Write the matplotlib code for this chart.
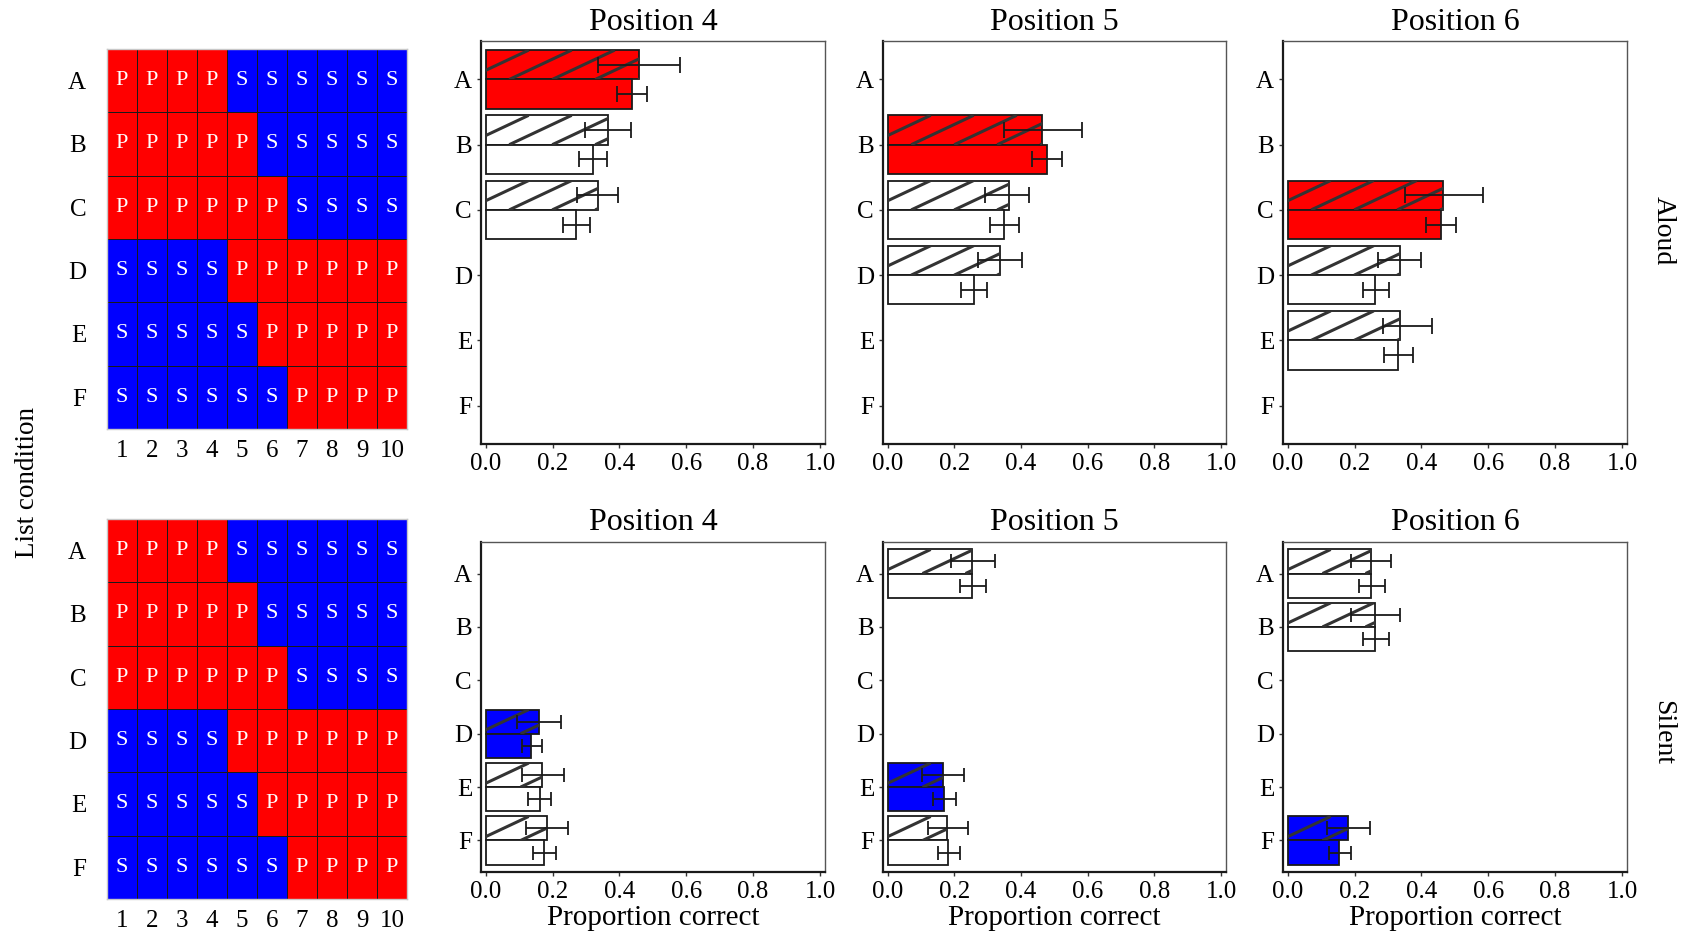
import matplotlib
matplotlib.use("Agg")
import matplotlib.pyplot as plt
from matplotlib.colors import ListedColormap
import numpy as np

plt.rcParams['font.family'] = ['Liberation Serif', 'DejaVu Serif']

nan = np.nan

# list layouts (P = phonological, S = semantic) for each list condition
conditions = ['A', 'B', 'C', 'D', 'E', 'F']
serial_pos = [1, 2, 3, 4, 5, 6, 7, 8, 9, 10]
layouts = ['PPPPSSSSSS',
           'PPPPPSSSSS',
           'PPPPPPSSSS',
           'SSSSPPPPPP',
           'SSSSSPPPPP',
           'SSSSSSPPPP']

positions = [4, 5, 6]
aloud_highlight = ['A', 'B', 'C']
silent_highlight = ['D', 'E', 'F']

# ---- Aloud ----
# position 4
al4_hatch    = [0.459, 0.366, 0.335, nan, nan, nan]
al4_hatch_lo = [0.337, 0.298, 0.272, nan, nan, nan]
al4_hatch_hi = [0.581, 0.436, 0.396, nan, nan, nan]
al4_plain    = [0.438, 0.320, 0.270, nan, nan, nan]
al4_plain_lo = [0.392, 0.278, 0.232, nan, nan, nan]
al4_plain_hi = [0.482, 0.364, 0.312, nan, nan, nan]
# position 5
al5_hatch    = [nan, 0.462, 0.363, 0.336, nan, nan]
al5_hatch_lo = [nan, 0.349, 0.292, 0.272, nan, nan]
al5_hatch_hi = [nan, 0.583, 0.424, 0.404, nan, nan]
al5_plain    = [nan, 0.479, 0.350, 0.258, nan, nan]
al5_plain_lo = [nan, 0.434, 0.307, 0.220, nan, nan]
al5_plain_hi = [nan, 0.523, 0.395, 0.299, nan, nan]
# position 6
al6_hatch    = [nan, nan, 0.466, 0.335, 0.335, nan]
al6_hatch_lo = [nan, nan, 0.352, 0.270, 0.286, nan]
al6_hatch_hi = [nan, nan, 0.583, 0.400, 0.433, nan]
al6_plain    = [nan, nan, 0.458, 0.261, 0.331, nan]
al6_plain_lo = [nan, nan, 0.413, 0.226, 0.289, nan]
al6_plain_hi = [nan, nan, 0.503, 0.302, 0.375, nan]

# ---- Silent ----
si4_hatch    = [nan, nan, nan, 0.158, 0.167, 0.182]
si4_hatch_lo = [nan, nan, nan, 0.095, 0.108, 0.120]
si4_hatch_hi = [nan, nan, nan, 0.224, 0.235, 0.247]
si4_plain    = [nan, nan, nan, 0.135, 0.161, 0.174]
si4_plain_lo = [nan, nan, nan, 0.108, 0.128, 0.143]
si4_plain_hi = [nan, nan, nan, 0.167, 0.194, 0.210]

si5_hatch    = [0.254, nan, nan, nan, 0.165, 0.179]
si5_hatch_lo = [0.189, nan, nan, nan, 0.103, 0.121]
si5_hatch_hi = [0.321, nan, nan, nan, 0.230, 0.242]
si5_plain    = [0.254, nan, nan, nan, 0.168, 0.181]
si5_plain_lo = [0.216, nan, nan, nan, 0.137, 0.150]
si5_plain_hi = [0.295, nan, nan, nan, 0.205, 0.217]

si6_hatch    = [0.250, 0.260, nan, nan, nan, 0.180]
si6_hatch_lo = [0.189, 0.189, nan, nan, nan, 0.119]
si6_hatch_hi = [0.310, 0.337, nan, nan, nan, 0.246]
si6_plain    = [0.250, 0.262, nan, nan, nan, 0.154]
si6_plain_lo = [0.213, 0.225, nan, nan, nan, 0.125]
si6_plain_hi = [0.291, 0.302, nan, nan, nan, 0.190]

aloud_panels = [
    (al4_hatch, al4_hatch_lo, al4_hatch_hi, al4_plain, al4_plain_lo, al4_plain_hi),
    (al5_hatch, al5_hatch_lo, al5_hatch_hi, al5_plain, al5_plain_lo, al5_plain_hi),
    (al6_hatch, al6_hatch_lo, al6_hatch_hi, al6_plain, al6_plain_lo, al6_plain_hi),
]
silent_panels = [
    (si4_hatch, si4_hatch_lo, si4_hatch_hi, si4_plain, si4_plain_lo, si4_plain_hi),
    (si5_hatch, si5_hatch_lo, si5_hatch_hi, si5_plain, si5_plain_lo, si5_plain_hi),
    (si6_hatch, si6_hatch_lo, si6_hatch_hi, si6_plain, si6_plain_lo, si6_plain_hi),
]

RED = '#ff0000'
BLUE = '#0000ff'
W, H = 1686, 935


def px_axes(left, top, right, bottom):
    return fig.add_axes([left / W, 1 - bottom / H, (right - left) / W, (bottom - top) / H])


def draw_layout(ax):
    grid = np.array([[1 if c == 'P' else 0 for c in row] for row in layouts])
    ax.pcolormesh(np.arange(len(serial_pos) + 1), np.arange(len(conditions) + 1), grid,
                  cmap=ListedColormap([BLUE, RED]), edgecolors='#1a1a1a', linewidth=0.6)
    for i, row in enumerate(layouts):
        for j, c in enumerate(row):
            ax.text(j + 0.5, i + 0.5, c, color='white', ha='center', va='center', fontsize=16)
    ax.set_xlim(0, len(serial_pos))
    ax.set_ylim(len(conditions), 0)
    ax.set_xticks(np.arange(len(serial_pos)) + 0.5)
    ax.set_xticklabels(serial_pos)
    ax.set_yticks(np.arange(len(conditions)) + 0.5)
    ax.set_yticklabels(conditions)
    ax.tick_params(axis='x', length=0, pad=8, labelsize=18)
    ax.tick_params(axis='y', length=0, pad=15, labelsize=18)
    for s in ax.spines.values():
        s.set_color('#c8c8c8')
        s.set_linewidth(1)


def add_stripes(ax, bar, spacing_px=43, slope=0.47):
    # diagonal stripes clipped to the bar, drawn in display geometry
    p0 = ax.transData.transform((0, 0))
    p1 = ax.transData.transform((1, 1))
    sx = abs(p1[0] - p0[0])
    sy = abs(p1[1] - p0[1])
    x0, y0 = bar.get_x(), bar.get_y()
    w, h = bar.get_width(), bar.get_height()
    run = (h * sy / slope) / sx          # horizontal run across bar height
    step = spacing_px / sx
    starts = np.arange(x0 - run, x0 + w + step, step)
    for xs in starts:
        ln, = ax.plot([xs, xs + run], [y0 + h, y0], color='#333333', lw=2.2,
                      solid_capstyle='butt', zorder=2.5)
        ln.set_clip_path(bar)


def draw_panel(ax, data, fill, highlight, capsize):
    hatch, hlo, hhi, plain, plo, phi = data
    y = np.arange(len(conditions))
    bh = 0.45
    for i, c in enumerate(conditions):
        if np.isnan(hatch[i]):
            continue
        col = fill if c == highlight else 'white'
        b1 = ax.barh(y[i] - bh / 2, hatch[i], height=bh, color=col,
                     edgecolor='#1a1a1a', linewidth=1.3, zorder=2)[0]
        ax.barh(y[i] + bh / 2, plain[i], height=bh, color=col,
                edgecolor='#1a1a1a', linewidth=1.3, zorder=2)
        add_stripes(ax, b1)
        ax.errorbar(hatch[i], y[i] - bh / 2,
                    xerr=[[hatch[i] - hlo[i]], [hhi[i] - hatch[i]]],
                    fmt='none', ecolor='#1a1a1a', elinewidth=1.3, capsize=capsize,
                    capthick=1.3, zorder=3)
        ax.errorbar(plain[i], y[i] + bh / 2,
                    xerr=[[plain[i] - plo[i]], [phi[i] - plain[i]]],
                    fmt='none', ecolor='#1a1a1a', elinewidth=1.3, capsize=capsize,
                    capthick=1.3, zorder=3)


def style_panel(ax):
    ax.set_xlim(-0.014, 1.015)
    ax.set_ylim(5.59, -0.59)
    ax.set_xticks([0, 0.2, 0.4, 0.6, 0.8, 1.0])
    ax.set_xticklabels(['0.0', '0.2', '0.4', '0.6', '0.8', '1.0'])
    ax.set_yticks(np.arange(len(conditions)))
    ax.set_yticklabels(conditions)
    ax.tick_params(length=3, width=1, color='#333333', pad=3.5, labelsize=18)
    for s in ['top', 'right']:
        ax.spines[s].set_color('#555555')
        ax.spines[s].set_linewidth(1.0)
    for s in ['left', 'bottom']:
        ax.spines[s].set_color('#1a1a1a')
        ax.spines[s].set_linewidth(1.6)


fig = plt.figure(figsize=(W / 100, H / 100), dpi=100)

# layout grids
draw_layout(px_axes(107, 49, 407, 429))
draw_layout(px_axes(107, 519, 407, 899))

cols = [(481, 825), (883, 1226), (1283, 1627)]
for k, pos in enumerate(positions):
    l, r = cols[k]
    ax = px_axes(l, 41, r, 444)
    style_panel(ax)
    draw_panel(ax, aloud_panels[k], RED, aloud_highlight[k], capsize=6)
    fig.text((l + r) / 2 / W, 1 - 22 / H, 'Position %d' % pos, ha='center', va='center', fontsize=23)

    ax = px_axes(l, 542, r, 872)
    style_panel(ax)
    draw_panel(ax, silent_panels[k], BLUE, silent_highlight[k], capsize=5)
    fig.text((l + r) / 2 / W, 1 - 918 / H, 'Proportion correct', ha='center', va='center', fontsize=21)
    fig.text((l + r) / 2 / W, 1 - 523 / H, 'Position %d' % pos, ha='center', va='center', fontsize=23)

fig.text(1663 / W, 1 - 231 / H, 'Aloud', rotation=270, ha='center', va='center', fontsize=20)
fig.text(1663 / W, 1 - 732 / H, 'Silent', rotation=270, ha='center', va='center', fontsize=20)
fig.text(28 / W, 1 - 482 / H, 'List condition', rotation=90, ha='center', va='center', fontsize=19.5)

fig.savefig('out.png', dpi=100)
